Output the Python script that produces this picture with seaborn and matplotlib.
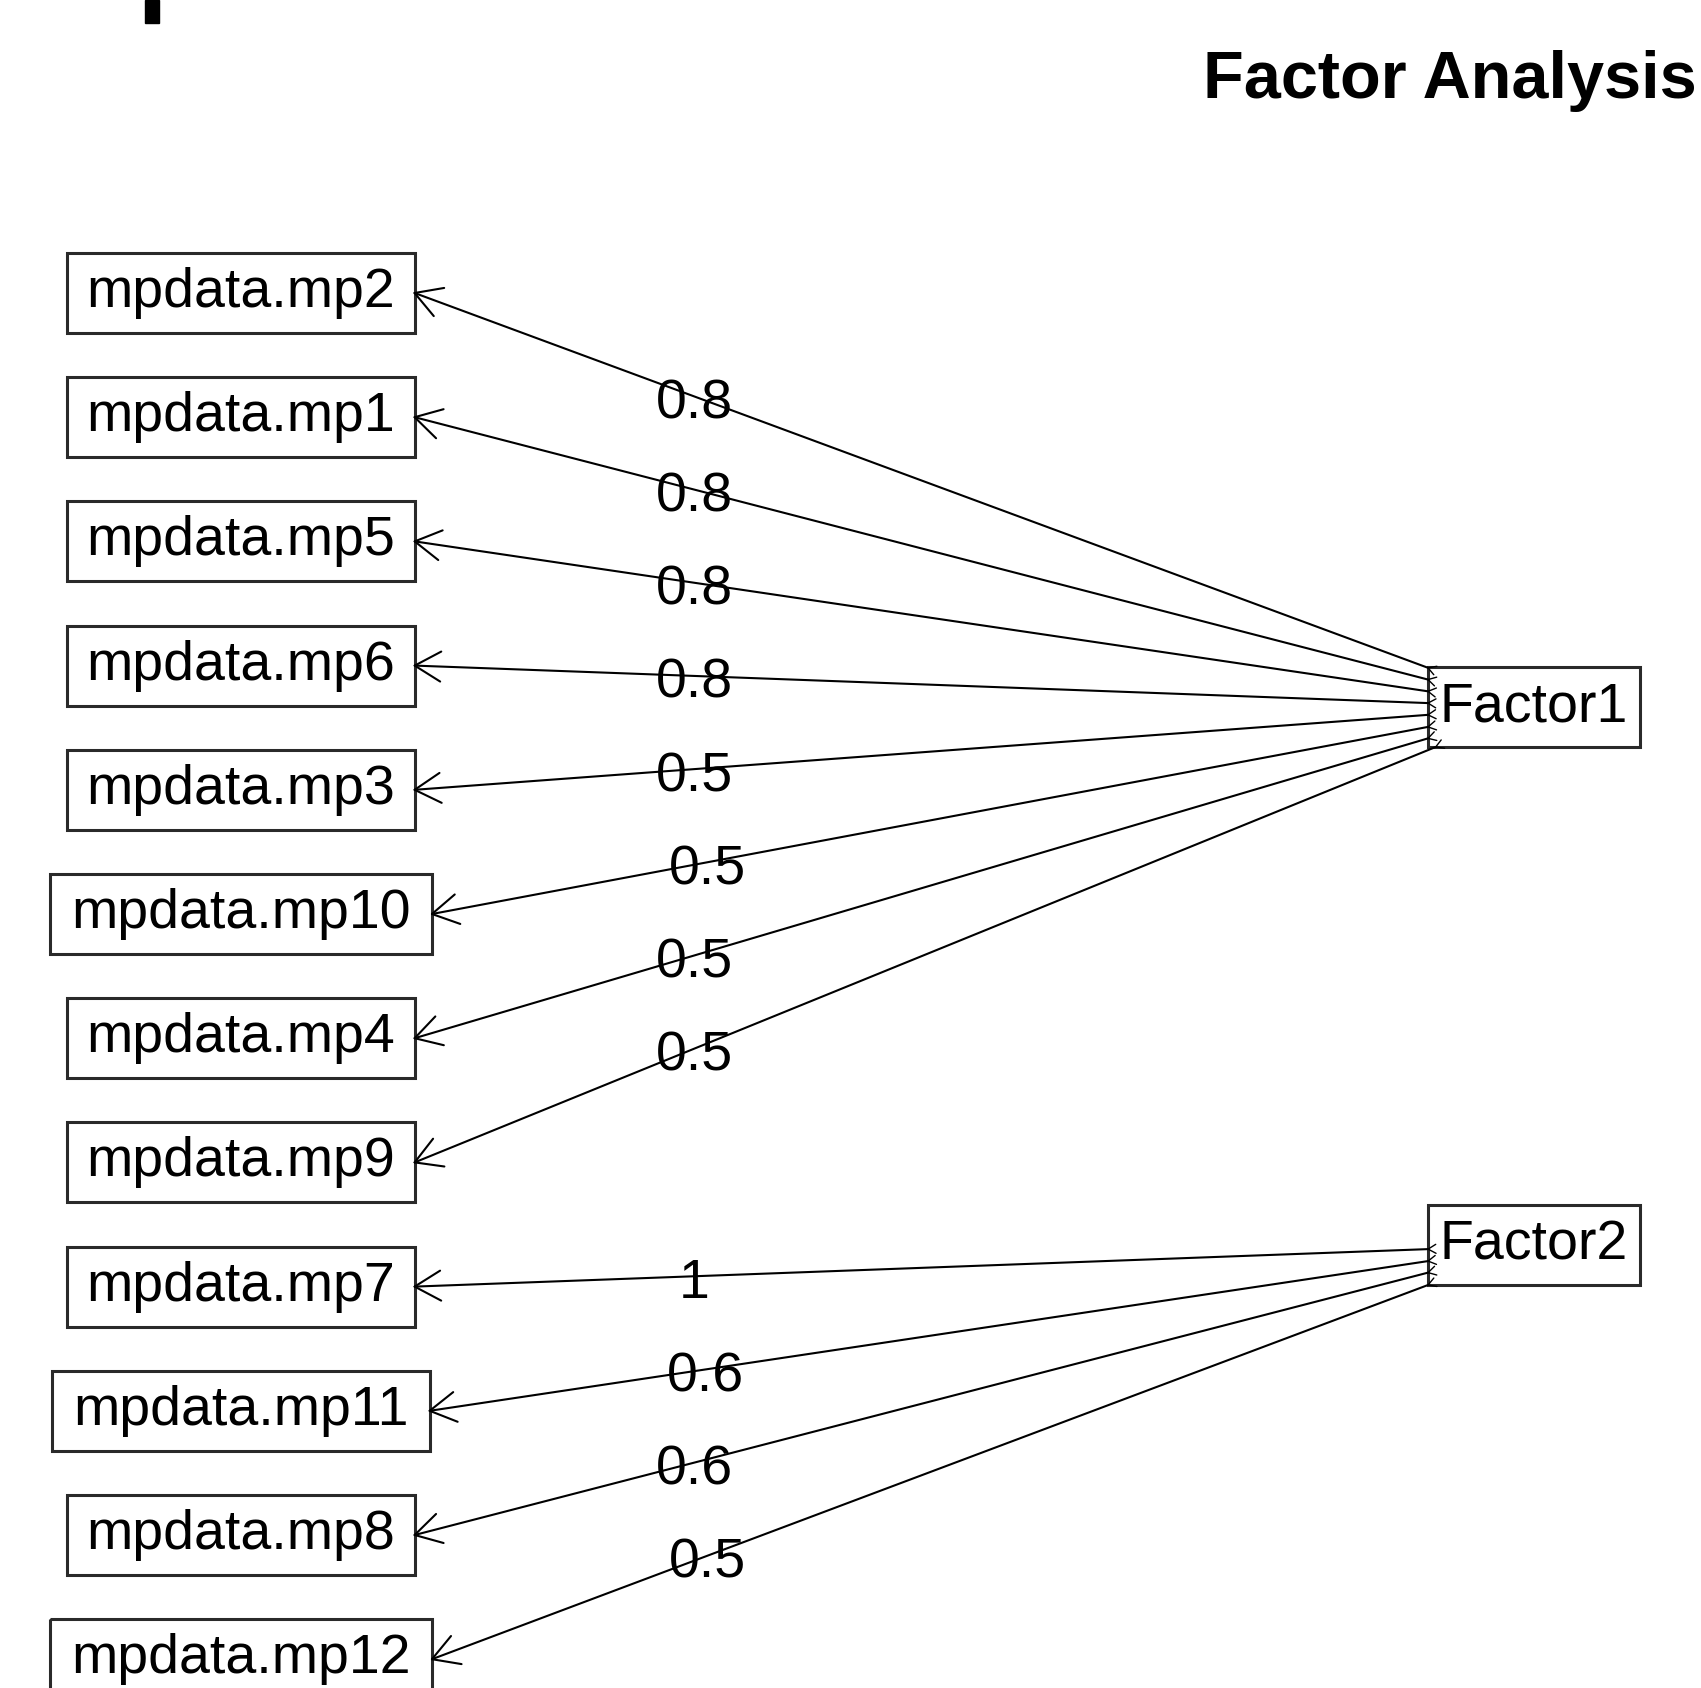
import numpy as np
import pandas as pd
import seaborn as sns
import matplotlib
matplotlib.use('Agg')
import matplotlib.pyplot as plt
from matplotlib.patches import Rectangle

# Data: observed variables (in diagram order), their factor and loading
variables = ["mpdata.mp2", "mpdata.mp1", "mpdata.mp5", "mpdata.mp6",
             "mpdata.mp3", "mpdata.mp10", "mpdata.mp4", "mpdata.mp9",
             "mpdata.mp7", "mpdata.mp11", "mpdata.mp8", "mpdata.mp12"]
var_factor = ["Factor1", "Factor1", "Factor1", "Factor1",
              "Factor1", "Factor1", "Factor1", "Factor1",
              "Factor2", "Factor2", "Factor2", "Factor2"]
loadings = [0.8, 0.8, 0.8, 0.8, 0.5, 0.5, 0.5, 0.5, 1.0, 0.6, 0.6, 0.5]
factors = ["Factor1", "Factor2"]
title = "Factor Analysis"

# layout (pixel units, y down)
W, H = 1701, 1688
row0, row_step = 293, 124.2
var_cx, fac_cx = 241, 1534
box_h = 80
width_scale = 1.125

sns.set_theme(style="white")
plt.rcParams['font.family'] = ['Liberation Sans', 'DejaVu Sans']

fig = plt.figure(figsize=(W / 100, H / 100), dpi=100)
ax = fig.add_axes([0, 0, 1, 1])
ax.set_xlim(0, W)
ax.set_ylim(H, 0)
ax.axis('off')
renderer = fig.canvas.get_renderer()


def row_y(k):
    return row0 + row_step * k


def draw_box(label, cx, cy):
    t = ax.text(cx, cy, label, ha='center', va='center', fontsize=40, color='black')
    w = t.get_window_extent(renderer).width * width_scale
    ax.add_patch(Rectangle((cx - w / 2, cy - box_h / 2), w, box_h, fill=False,
                           edgecolor='#2a2a2a', lw=2.2))
    return w


def barbs(px, py, ang, length, lw):
    for a in (ang + np.radians(30), ang - np.radians(30)):
        ax.plot([px, px + length * np.cos(a)], [py, py + length * np.sin(a)],
                color='black', lw=lw, solid_capstyle='round')


# factor positions spaced like psych::fa.diagram
n_var, n_fac = len(variables), len(factors)
fac_pos = {}
for i, f in enumerate(factors):
    fy = row_y((i + 1) * (n_var + 1) / (n_fac + 1) - 1)
    fw = draw_box(f, fac_cx, fy)
    fac_pos[f] = (fac_cx, fy, fw / 2, box_h / 2)

edges = []
for k, (v, f, l) in enumerate(zip(variables, var_factor, loadings)):
    vy = row_y(k)
    vw = draw_box(v, var_cx, vy)
    tx, ty = var_cx + vw / 2, vy
    cx, cy, hw, hh = fac_pos[f]
    dx, dy = tx - cx, ty - cy
    s = min(hw / abs(dx), hh / abs(dy) if dy != 0 else np.inf)
    sx, sy = cx + dx * s, cy + dy * s
    edges.append({"edge": k, "x": sx, "y": sy})
    edges.append({"edge": k, "x": tx, "y": ty})
    ang = np.arctan2(sy - ty, sx - tx)
    # open arrow head at the variable end, tiny one at the factor end
    barbs(tx, ty, ang, 30, 1.5)
    barbs(sx, sy, ang, 9, 1.0)
    lx, ly = tx + 0.25 * (cx - tx), ty + 0.25 * (cy - ty)
    ax.text(lx, ly + 22, f"{l:g}", ha='center', va='baseline', fontsize=40, color='black')

edge_df = pd.DataFrame(edges)
sns.lineplot(data=edge_df, x="x", y="y", units="edge", estimator=None, sort=False,
             color='black', lw=1.5, ax=ax, legend=False)
ax.set_xlim(0, W)
ax.set_ylim(H, 0)
ax.axis('off')

ax.text(1203, 98, title, ha='left', va='baseline', fontsize=48,
        fontweight='bold', color='black')
# remnant glyph cut by the crop at the top edge
ax.add_patch(Rectangle((145, 0), 14, 23, color='black'))

fig.savefig("out.png", dpi=100)
